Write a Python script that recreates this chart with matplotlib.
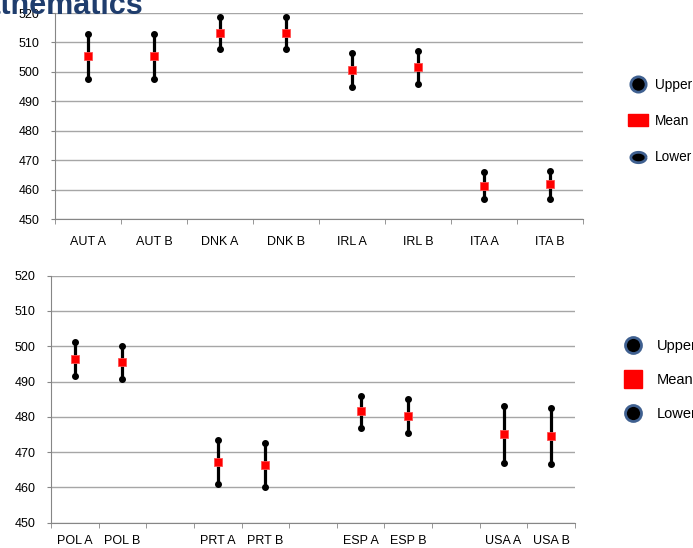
import matplotlib
matplotlib.use('Agg')
import numpy as np
import matplotlib.pyplot as plt
from matplotlib.lines import Line2D
from matplotlib.ticker import FixedLocator, MultipleLocator

plt.rcParams['font.family'] = ['Liberation Sans', 'DejaVu Sans']

# upper panel
top_labels = ['AUT A', 'AUT B', 'DNK A', 'DNK B', 'IRL A', 'IRL B', 'ITA A', 'ITA B']
top_upper = [513.0, 513.0, 518.5, 518.5, 506.3, 507.2, 465.9, 466.3]
top_mean = [505.5, 505.5, 513.1, 513.1, 500.7, 501.6, 461.3, 461.8]
top_lower = [497.6, 497.6, 507.9, 507.9, 495.0, 496.0, 456.8, 456.8]

# lower panel, blank slots separate the countries
bot_labels = ['POL A', 'POL B', '', 'PRT A', 'PRT B', '', 'ESP A', 'ESP B', '', 'USA A', 'USA B']
bot_upper = [501.1, 500.2, 473.5, 472.5, 486.0, 485.1, 483.1, 482.6]
bot_mean = [496.3, 495.5, 467.2, 466.3, 481.7, 480.3, 475.1, 474.6]
bot_lower = [491.5, 490.8, 461.1, 460.0, 476.9, 475.5, 467.0, 466.6]

W, H = 693, 548
fig = plt.figure(figsize=(W / 100, H / 100), dpi=100)

grid_c = '#a6a6a6'
axis_c = '#868686'


def panel(rect, labels, upper, mean, lower, xpad):
    ax = fig.add_axes(rect)
    xs = [i for i, lab in enumerate(labels) if lab]
    ax.vlines(xs, lower, upper, color='black', lw=2.3, zorder=3)
    ax.plot(xs, upper, 'o', color='black', ms=4, zorder=4)
    ax.plot(xs, lower, 'o', color='black', ms=4, zorder=4)
    ax.plot(xs, mean, 's', color='#ff0000', mec='#ff5050', mew=0.6, ms=6, zorder=5)
    ax.set_xlim(-0.5, len(labels) - 0.5)
    ax.set_ylim(450, 520)
    ax.yaxis.set_major_locator(MultipleLocator(10))
    ax.set_xticks(xs)
    ax.set_xticklabels([labels[i] for i in xs])
    ax.xaxis.set_minor_locator(FixedLocator([i - 0.5 for i in range(len(labels) + 1)]))
    ax.tick_params(axis='x', which='major', length=0, pad=xpad, labelsize=9, colors='black')
    ax.tick_params(axis='x', which='minor', length=3.5, color=axis_c)
    ax.tick_params(axis='y', length=3, pad=8, labelsize=9, color=axis_c)
    ax.grid(axis='y', color=grid_c, lw=1)
    ax.set_axisbelow(True)
    for s in ['top', 'right']:
        ax.spines[s].set_visible(False)
    for s in ['left', 'bottom']:
        ax.spines[s].set_color(axis_c)
    return ax


ax1 = panel([55 / W, 1 - 219 / H, 528 / W, 206 / H],
            top_labels, top_upper, top_mean, top_lower, 12.5)
ax2 = panel([51 / W, 1 - 522.7 / H, 524 / W, 247 / H],
            bot_labels, bot_upper, bot_mean, bot_lower, 9)

# flat rectangle and ellipse markers for the upper legend
rect_marker = [(-1, -0.62), (1, -0.62), (1, 0.62), (-1, 0.62), (-1, -0.62)]
t = np.linspace(0, 2 * np.pi, 40)
ellipse_marker = list(zip(np.cos(t), 0.68 * np.sin(t)))

edge = '#3f6090'
top_handles = [
    Line2D([], [], ls='none', marker='o', mfc='black', mec=edge, mew=2, ms=11),
    Line2D([], [], ls='none', marker=rect_marker, mfc='#ff0000', mec='#ff0000', ms=15),
    Line2D([], [], ls='none', marker=ellipse_marker, mfc='black', mec=edge, mew=2, ms=11),
]
bot_handles = [
    Line2D([], [], ls='none', marker='o', mfc='black', mec=edge, mew=2, ms=11.5),
    Line2D([], [], ls='none', marker='s', mfc='#ff0000', mec='#ff0000', ms=13.5),
    Line2D([], [], ls='none', marker='o', mfc='black', mec=edge, mew=2, ms=11.5),
]

ax1.legend(top_handles, ['Upper', 'Mean', 'Lower'],
           loc='center left', bbox_to_anchor=(623 / W, 1 - 121 / H),
           bbox_transform=fig.transFigure, frameon=False, fontsize=9.8,
           handlelength=1.2, handletextpad=0.64, labelspacing=1.65, borderpad=0)
ax2.legend(bot_handles, ['Upper', 'Mean', 'Lower'],
           loc='center left', bbox_to_anchor=(617 / W, 1 - 380 / H),
           bbox_transform=fig.transFigure, frameon=False, fontsize=10.5,
           handlelength=1.2, handletextpad=1.06, labelspacing=1.35, borderpad=0)

fig.text(143 / W, 1 - 13.5 / H, 'Mathematics', ha='right', va='baseline',
         fontsize=22, fontweight='bold', color='#1f3d6d')

fig.savefig('out.png', dpi=100)
